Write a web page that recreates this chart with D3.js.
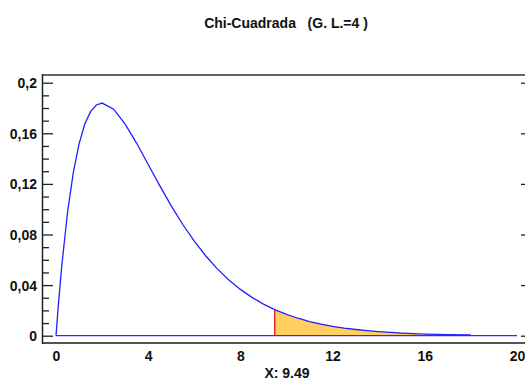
<!DOCTYPE html>
<html><head><meta charset="utf-8">
<script src="https://cdn.jsdelivr.net/npm/d3@7"></script>
<style>
html,body{margin:0;padding:0;background:#fff;}
svg{display:block;font-family:"Liberation Sans",Arial,sans-serif;}
</style></head>
<body><svg id="c" width="525" height="382"></svg>
<script>
// Data: density curve points
const xVals = [0,0.1,0.25,0.5,0.75,1,1.25,1.5,1.75,2,2.5,3,3.5,4,4.5,5,5.5,6,6.5,7,7.5,8,8.5,9,9.49,10,10.5,11,11.5,12,12.5,13,13.5,14,14.5,15,15.5,16,17,18];
const yVals = [0,0.0238,0.0552,0.0974,0.1289,0.1516,0.1673,0.1771,0.1824,0.1839,0.1791,0.1673,0.1521,0.1353,0.1186,0.1026,0.0879,0.0747,0.0630,0.0528,0.0441,0.0366,0.0303,0.0250,0.0206,0.0168,0.0138,0.0112,0.0092,0.0074,0.0060,0.0049,0.0040,0.0032,0.0026,0.0021,0.0017,0.0013,0.0009,0.0006];
const critical = 9.49;
const shadeEnd = 15.8;
const xTicks = [0,4,8,12,16,20];
const xTickLabels = ["0","4","8","12","16","20"];
const yTicks = [0,0.04,0.08,0.12,0.16,0.2];
const yTickLabels = ["0","0,04","0,08","0,12","0,16","0,2"];
const yMinor = [0.01,0.02,0.03,0.05,0.06,0.07,0.09,0.10,0.11,0.13,0.14,0.15,0.17,0.18,0.19];
const title = "Chi-Cuadrada   (G. L.=4 )";
const xTitle = "X: 9.49";

const svg = d3.select("#c");
const x = d3.scaleLinear().domain([0,20]).range([56,517]);
const y = d3.scaleLinear().domain([0,0.2]).range([335.7,82.7]);
const pts = xVals.map((v,i)=>[v,yVals[i]]);

// Title
svg.append("text").attr("x",286).attr("y",28).attr("text-anchor","middle")
  .attr("font-size",14).attr("font-weight","bold").attr("fill","#111")
  .style("white-space","pre").text(title);

// Shaded region
const shadePts = pts.filter(p=>p[0]>=critical && p[0]<=shadeEnd);
const lastIdx = xVals.findIndex(v=>v>shadeEnd);
const a = pts[lastIdx-1], b = pts[lastIdx];
const tEnd = (shadeEnd-a[0])/(b[0]-a[0]);
shadePts.push([shadeEnd, a[1]+(b[1]-a[1])*tEnd]);
svg.append("path").datum(shadePts)
  .attr("d", d3.area().x(d=>x(d[0])).y0(y(0)).y1(d=>y(d[1])))
  .attr("fill","#FFD060");

// Red line at critical value
const critY = yVals[xVals.indexOf(critical)];
svg.append("line").attr("x1",x(critical)).attr("x2",x(critical))
  .attr("y1",y(0)).attr("y2",y(critY)).attr("stroke","#e00000").attr("stroke-width",1.2);

// Baseline
svg.append("line").attr("x1",x(0)).attr("x2",x(20)).attr("y1",y(0)).attr("y2",y(0))
  .attr("stroke","#2a2aff").attr("stroke-width",1.3);

// Curve
svg.append("path").datum(pts)
  .attr("d", d3.line().x(d=>x(d[0])).y(d=>y(d[1])))
  .attr("fill","none").attr("stroke","#2020ff").attr("stroke-width",1.3);

// Frame
svg.append("line").attr("x1",42).attr("x2",525).attr("y1",75).attr("y2",75).attr("stroke","#666").attr("stroke-width",2);
svg.append("line").attr("x1",42).attr("x2",525).attr("y1",343).attr("y2",343).attr("stroke","#555").attr("stroke-width",2);
svg.append("line").attr("x1",42.5).attr("x2",42.5).attr("y1",74).attr("y2",344).attr("stroke","#222").attr("stroke-width",1.5);

// Left ticks
const gMaj = svg.append("g").attr("transform","translate(43,0)")
  .call(d3.axisRight(y).tickValues(yTicks).tickSize(10).tickFormat(""));
gMaj.select(".domain").remove();
gMaj.selectAll("line").attr("stroke","#222").attr("stroke-width",1.3);
const gMin = svg.append("g").attr("transform","translate(43,0)")
  .call(d3.axisRight(y).tickValues(yMinor).tickSize(6).tickFormat(""));
gMin.select(".domain").remove();
gMin.selectAll("line").attr("stroke","#222").attr("stroke-width",1.3);

// Right ticks
const gR = svg.append("g").attr("transform","translate(525,0)")
  .call(d3.axisLeft(y).tickValues(yTicks).tickSize(4).tickFormat(""));
gR.select(".domain").remove();
gR.selectAll("line").attr("stroke","#222").attr("stroke-width",1.3);

// Y labels
const gYL = svg.append("g").attr("transform","translate(37,0)")
  .call(d3.axisLeft(y).tickValues(yTicks).tickSize(0).tickPadding(0)
    .tickFormat((d,i)=>yTickLabels[i]));
gYL.select(".domain").remove();
gYL.selectAll("text").attr("font-size",14).attr("font-weight","bold").attr("fill","#111")
  .attr("font-family","Liberation Sans, Arial, sans-serif").attr("dy","0.36em");

// X labels
const gXL = svg.append("g").attr("transform","translate(0,345)")
  .call(d3.axisBottom(x).tickValues(xTicks).tickSize(0).tickPadding(6)
    .tickFormat((d,i)=>xTickLabels[i]));
gXL.select(".domain").remove();
gXL.selectAll("text").attr("font-size",14).attr("font-weight","bold").attr("fill","#111")
  .attr("font-family","Liberation Sans, Arial, sans-serif");

// X title
svg.append("text").attr("x",287).attr("y",378).attr("text-anchor","middle")
  .attr("font-size",14).attr("font-weight","bold").attr("fill","#111").text(xTitle);
</script></body></html>
